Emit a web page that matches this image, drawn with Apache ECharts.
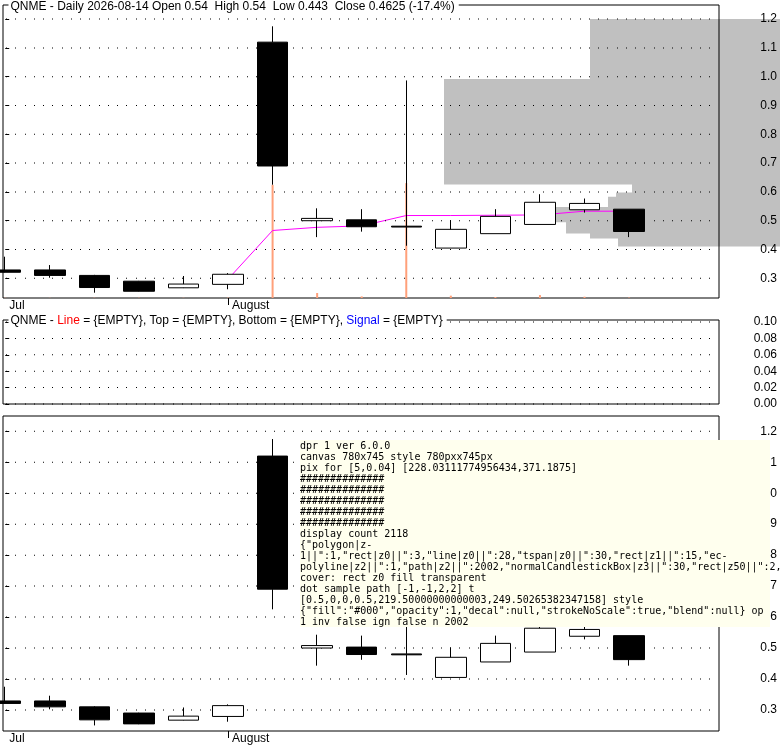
<!DOCTYPE html>
<html>
<head>
<meta charset="utf-8">
<script src="https://cdn.jsdelivr.net/npm/echarts@6.0.0/dist/echarts.min.js"></script>
<style>html,body{margin:0;padding:0;background:#fff}#c{width:780px;height:745px}#d{position:absolute;left:300px;top:440px;width:470px;font:10px monospace;white-space:pre-wrap;background:#ffe;z-index:9}</style>
</head>
<body>
<div id="c"></div><div id="d"></div>
<script>
const out=[];
window.onerror = function(m){ out.push('ERR '+m); };
const dates  = ['2026-07-27','2026-07-28','2026-07-29','2026-07-30','2026-07-31','2026-08-03','2026-08-04','2026-08-05','2026-08-06','2026-08-07','2026-08-10','2026-08-11','2026-08-12','2026-08-13','2026-08-14'];
const open   = [0.329,0.329,0.310,0.290,0.267,0.279,1.120,0.500,0.503,0.481,0.405,0.455,0.487,0.538,0.540];
const high   = [0.375,0.346,0.312,0.291,0.308,0.318,1.175,0.543,0.540,0.987,0.502,0.540,0.592,0.577,0.540];
const low    = [0.320,0.302,0.250,0.254,0.266,0.262,0.625,0.443,0.462,0.413,0.405,0.455,0.487,0.528,0.443];
const close  = [0.321,0.310,0.268,0.255,0.280,0.314,0.690,0.508,0.479,0.478,0.470,0.515,0.564,0.560,0.4625];
const volume = [150000,120000,200000,180000,160000,250000,77200000,3400000,1100000,78400000,1600000,700000,2000000,900000,302912];
const res1   = [null,null,null,null,null,0.297,0.466,0.477,0.482,0.518,0.518,0.519,0.520,0.533,0.533];
const sup1   = [null,null,null,null,null,0.30,0.30,0.30,0.30,0.30,0.30,0.30,0.30,0.30,0.30];
const sup2   = [null,null,null,null,null,0.30,0.30,0.30,0.30,0.30,0.30,0.30,0.30,0.30,0.30];
const res2Signal = [null,null,null,null,null,null,null,null,0.594,null,null,null,null,null,0.594];
const topVals    = [0.376,0.347,0.313,0.291,0.309,0.318,null,0.547,0.547,0.547,0.547,0.547,null,null,0.547];
const bottomVals = [0.318,0.302,0.251,0.254,0.254,0.254,0.254,0.254,0.254,0.254,0.254,0.254,0.254,0.254,0.254];
const shadeX = [13.123,17.387,17.387,13.752,13.752,13.123,13.123,12.585,12.585,12.36,12.36,13.527,13.527,13.707,13.707,14.066,14.066,9.847,9.847,13.123];
const shadeY = [1.200,1.200,0.410,0.410,0.438,0.438,0.456,0.456,0.495,0.495,0.548,0.548,0.583,0.583,0.598,0.598,0.626,0.626,0.992,0.992];
const priceTicks = [0.3,0.4,0.5,0.6,0.7,0.8,0.9,1.0,1.1,1.2];
const oscTicks   = [0,0.02,0.04,0.06,0.08,0.10];
const monthIdx   = [0,5];
const monthText  = ['Jul','August'];
const FONT = '12px "Liberation Sans", Arial, sans-serif';
const FF = '"Liberation Sans", Arial, sans-serif';
const X_MIN = -0.05, X_MAX = 16.018;
const GRID_LEFT = 3, GRID_W = 716;
const idx = dates.map((d,i)=>i);
const ohlc = idx.map(i=>[i, open[i], close[i], low[i], high[i]]);
const pairs = arr => idx.filter(i=>arr[i]!=null).map(i=>[i, arr[i]]);
function priceAxis(g, mn, mx, ticks, dec){
  return {gridIndex:g, type:'value', position:'right', min:mn, max:mx, axisLine:{show:false},
    axisTick:{show:true, inside:false, length:4, customValues:ticks, lineStyle:{color:'#000'}},
    axisLabel:{customValues:ticks, align:'right', margin:58, color:'#000', fontSize:12, fontFamily:FF, formatter:v=>v.toFixed(dec)},
    splitLine:{show:false}};
}
function timeAxis(g, show){
  return {gridIndex:g, type:'value', min:X_MIN, max:X_MAX, axisLine:{show:false}, splitLine:{show:false},
    axisTick:{show:show, customValues:[monthIdx[1]], length:7, lineStyle:{color:'#000'}},
    axisLabel:{show:show, customValues:monthIdx, align:'left', padding:[0,0,0,4], margin:2, color:'#000', fontSize:12, fontFamily:FF,
      formatter:v=>{const k=monthIdx.indexOf(Math.round(v)); return k>=0?monthText[k]:'';}}};
}
function gridDots(xi, yi, ticks){
  const pxPerIdx = GRID_W / (X_MAX - X_MIN);
  const pts = [];
  ticks.forEach(v=>{ for (let k = 0; 3 + Math.round(9.25*k) < GRID_W - 2; k++) { const px = 3 + Math.round(9.25*k) + 0.5; pts.push([X_MIN + px / pxPerIdx, v]); } });
  return {type:'scatter', name:'dots'+xi, xAxisIndex:xi, yAxisIndex:yi, z:2, silent:true, symbol:'rect', symbolSize:1, large:false, itemStyle:{color:'#000', opacity:1}, data:pts};
}
const gridBase = {show:true, borderColor:'#000', borderWidth:1, backgroundColor:'transparent', containLabel:false, outerBoundsMode:'none'};
const candleStyle = {color:'#ffffff', color0:'#000000', borderColor:'#000000', borderColor0:'#000000', borderWidth:1};
const rich = { m:{font:FONT, fill:'#ff00ff'}, r:{font:FONT, fill:'#ff0000'}, u:{font:FONT, fill:'#0000ff'}, g:{font:FONT, fill:'#008000'} };
function label(x, y, text){
  return {type:'text', x:x, y:y, z:50, silent:true, style:{text:text, rich:rich, font:FONT, fill:'#000', align:'left', verticalAlign:'middle', backgroundColor:'#fff', padding:[0,4,0,2]}};
}
const option = {
  animation:false,
  grid:[ Object.assign({left:GRID_LEFT, top:5, width:GRID_W, height:293}, gridBase), Object.assign({left:GRID_LEFT, top:320, width:GRID_W, height:84}, gridBase), Object.assign({left:GRID_LEFT, top:416, width:GRID_W, height:315}, gridBase) ],
  xAxis:[timeAxis(0,true), timeAxis(1,false), timeAxis(2,true)],
  yAxis:[ priceAxis(0, 0.2316, 1.249, priceTicks, 1), {gridIndex:0, type:'value', min:0, max:200000000, show:false}, priceAxis(1, 0, 0.1024, oscTicks, 2), priceAxis(2, 0.2320, 1.2494, priceTicks, 1) ],
  graphic:[
    label(8.5, 6.3, 'QNME - Daily 2026-08-14 Open 0.54  High 0.54  Low 0.443  Close 0.4625 (-17.4%)'),
    label(8.5, 320.8, 'QNME - {r|Line} = {EMPTY}, Top = {EMPTY}, Bottom = {EMPTY}, {u|Signal} = {EMPTY}')
  ],
  series:[
    {type:'custom', name:'shade', xAxisIndex:0, yAxisIndex:0, z:-1, silent:true, clip:false, data:shadeX.map((x,k)=>[x, shadeY[k]]),
      renderItem:(params, api)=>{ if(params.dataIndex!==0) return null; const pts = shadeX.map((x,k)=>api.coord([x, shadeY[k]])); return {type:'polygon', shape:{points:pts}, style:{fill:'#c0c0c0'}}; }},
    gridDots(0, 0, priceTicks), gridDots(1, 2, oscTicks), gridDots(2, 3, priceTicks),
    {type:'bar', name:'volume', xAxisIndex:0, yAxisIndex:1, z:1, barWidth:2, itemStyle:{color:'#ffa07a'}, data:idx.map(i=>[i, volume[i]])},
    {type:'line', name:'Res-1', xAxisIndex:0, yAxisIndex:0, z:2, symbol:'none', lineStyle:{color:'#ff00ff', width:1}, data:pairs(res1)},
    {type:'candlestick', name:'price', xAxisIndex:0, yAxisIndex:0, z:3, barWidth:31, clip:false, itemStyle:candleStyle, data:ohlc},
    {type:'candlestick', name:'price2', xAxisIndex:2, yAxisIndex:3, z:3, barWidth:31, clip:false, itemStyle:candleStyle, data:ohlc}
  ]
};
const chart = echarts.init(document.getElementById('c'), null, {renderer:'canvas'});
chart.setOption(option);
try {
  out.push('dpr '+window.devicePixelRatio+' ver '+echarts.version);
  const cv = document.querySelector('#c canvas');
  out.push('canvas '+cv.width+'x'+cv.height+' style '+cv.style.width+'x'+cv.style.height);
  const ctx = cv.getContext('2d');
  const p = chart.convertToPixel({xAxisIndex:1, yAxisIndex:2}, [5, 0.04]);
  out.push('pix for [5,0.04] '+JSON.stringify(p));
  const d = ctx.getImageData(Math.floor(p[0])-6, Math.floor(p[1])-2, 14, 5).data;
  const rows=[]; for(let r=0;r<5;r++){ let s=''; for(let c=0;c<14;c++){ const a=d[(r*14+c)*4]; s+= a<100?'#':(a<220?'+':'.'); } rows.push(s); }
  out.push(rows.join('\n'));
  const list = chart.getZr().storage.getDisplayList(true);
  out.push('display count '+list.length);
  const cnt={}; list.forEach(e=>{ const k=e.type+'|z'+e.z+'|'+(e.invisible?'inv':'')+'|'+(e.ignore?'ign':''); cnt[k]=(cnt[k]||0)+1; });
  out.push(JSON.stringify(cnt));
  // elements covering point (360,370)
  const cov = list.filter(e=>{ try{ const r=e.getBoundingRect().clone(); if(e.transform) r.applyTransform(e.transform); return r.contain(360,370);}catch(x){return false;} });
  out.push('cover: '+cov.map(e=>e.type+' z'+e.z+' fill '+(e.style&&e.style.fill)).join('; '));
  const dotEls = list.filter(e=>e.type!=='text' && e.z===2 && e.getBoundingRect().width<3);
  if(dotEls.length){ const e=dotEls[100]||dotEls[0]; const r=e.getBoundingRect(); out.push('dot sample '+e.type+' '+JSON.stringify([r.x,r.y,r.width,r.height])+' t '+JSON.stringify(e.transform)+' style '+JSON.stringify(e.style)+' op '+e.style.opacity+' inv '+e.invisible+' ign '+e.ignore+' n '+dotEls.length); }
} catch(e) { out.push('EXC '+e.message); }
document.getElementById('d').textContent = out.join('\n');
</script>
</body>
</html>
